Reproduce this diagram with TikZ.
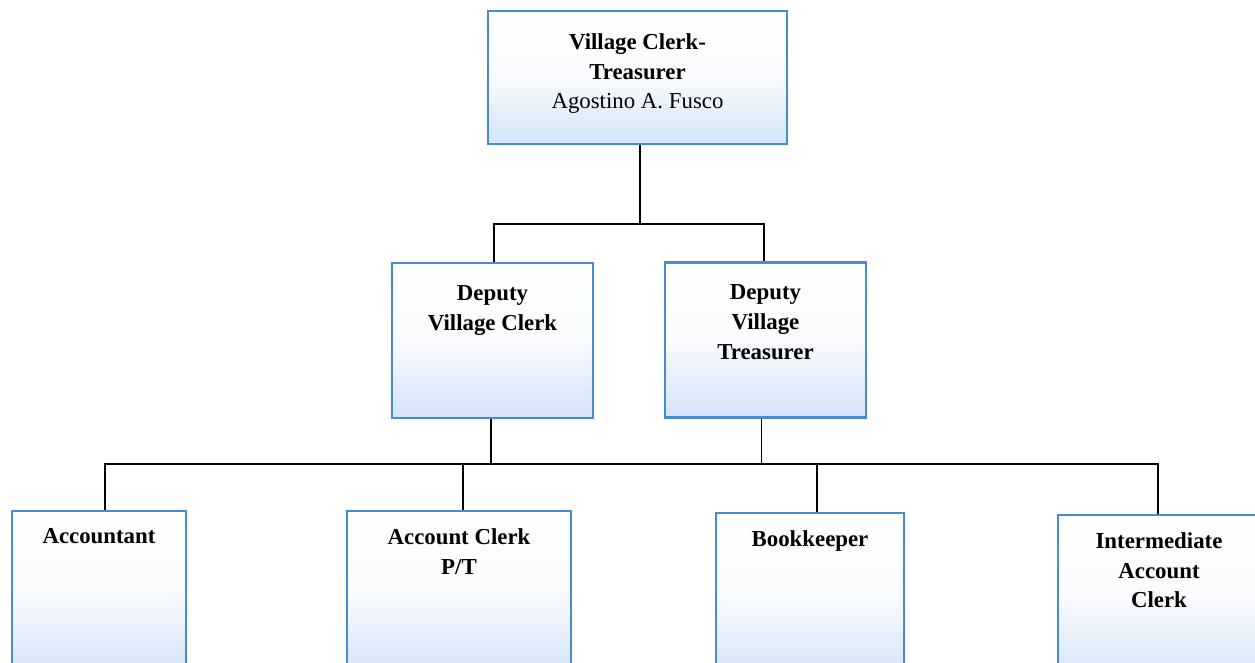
\documentclass[tikz,border=0pt]{standalone}
\usepackage{fontspec}
\setmainfont{Liberation Serif}
\usepackage{xcolor}
\usetikzlibrary{calc}
\definecolor{boxblue}{RGB}{70,140,210}
\definecolor{boxfill}{RGB}{212,228,247}
\tikzset{
    orgbox/.style={draw=boxblue, line width=1.2pt, rectangle, inner sep=0pt,
        top color=white, bottom color=boxfill, middle color=white!85!boxfill},
    orgtext/.style={anchor=north, align=center, inner sep=0pt,
        font=\fontsize{13}{17}\selectfont\bfseries},
    orgline/.style={line width=0.8pt, black}
}

\begin{document}
\begin{tikzpicture}[x=0.02cm, y=-0.02cm]
        \newcommand{\orgtoph}{2.66cm}
        \newcommand{\orgmidh}{3.1cm}
        \newcommand{\orgboth}{3.3cm}
        \newcommand{\orgtextdrop}{-0.36cm}
        \newcommand{\orgtextdropup}{-0.46cm}
        \useasboundingbox (0,0) rectangle (1255,663);
        \clip (0,0) rectangle (1255,663);
        % top
        \node[orgbox, minimum width=5.98cm, minimum height=\orgtoph] (vct) at (637.5,77.5) {};
        \node[orgtext, yshift=\orgtextdropup] (vcttext) at (vct.north) {Village Clerk-\\Treasurer\\\mdseries Agostino A. Fusco};
        % deputies
        \node[orgbox, minimum width=4.02cm, minimum height=\orgmidh] (dvc) at (492.5,340.5) {};
        \node[orgtext, yshift=\orgtextdropup] (dvctext) at (dvc.north) {Deputy\\Village Clerk};
        \node[orgbox, minimum width=4.02cm, minimum height=\orgmidh] (dvt) at (765.5,340) {};
        \node[orgtext, yshift=\orgtextdropup] (dvttext) at (dvt.north) {Deputy\\Village\\Treasurer};
        % staff
        \node[orgbox, minimum width=3.48cm, minimum height=\orgboth, anchor=north] (acc) at (99,510) {};
        \node[orgtext, yshift=\orgtextdrop] (acctext) at (acc.north) {Accountant};
        \node[orgbox, minimum width=4.48cm, minimum height=\orgboth, anchor=north] (acp) at (459,510) {};
        \node[orgtext, yshift=\orgtextdrop] (acptext) at (acp.north) {Account Clerk\\P/T};
        \node[orgbox, minimum width=3.76cm, minimum height=\orgboth, anchor=north] (bkp) at (810,512) {};
        \node[orgtext, yshift=\orgtextdrop] (bkptext) at (bkp.north) {Bookkeeper};
        \node[orgbox, minimum width=4.04cm, minimum height=\orgboth, anchor=north] (iac) at (1159,514) {};
        \node[orgtext, yshift=\orgtextdrop] (iactext) at (iac.north) {Intermediate\\Account\\Clerk};
        % connectors
        \coordinate (bustop) at (640,224);
        \coordinate (busbot) at (491,464);
        \draw[orgline] (vct.south -| bustop) -- (bustop);
        \draw[orgline] ([xshift=0.03cm]dvc.north) |- (bustop) -| ([xshift=-0.03cm]dvt.north);
        \draw[orgline] (dvc.south -| busbot) -- (busbot);
        \draw[orgline] ([xshift=-0.08cm]dvt.south) -- ([xshift=-0.08cm]dvt.south |- busbot);
        \draw[orgline] ([xshift=0.12cm]acc.north) |- (busbot) -| ([xshift=-0.02cm]iac.north);
        \draw[orgline] ([xshift=0.08cm]acp.north) -- ([xshift=0.08cm]acp.north |- busbot);
        \draw[orgline] ([xshift=0.14cm]bkp.north) -- ([xshift=0.14cm]bkp.north |- busbot);
\end{tikzpicture}
\end{document}
